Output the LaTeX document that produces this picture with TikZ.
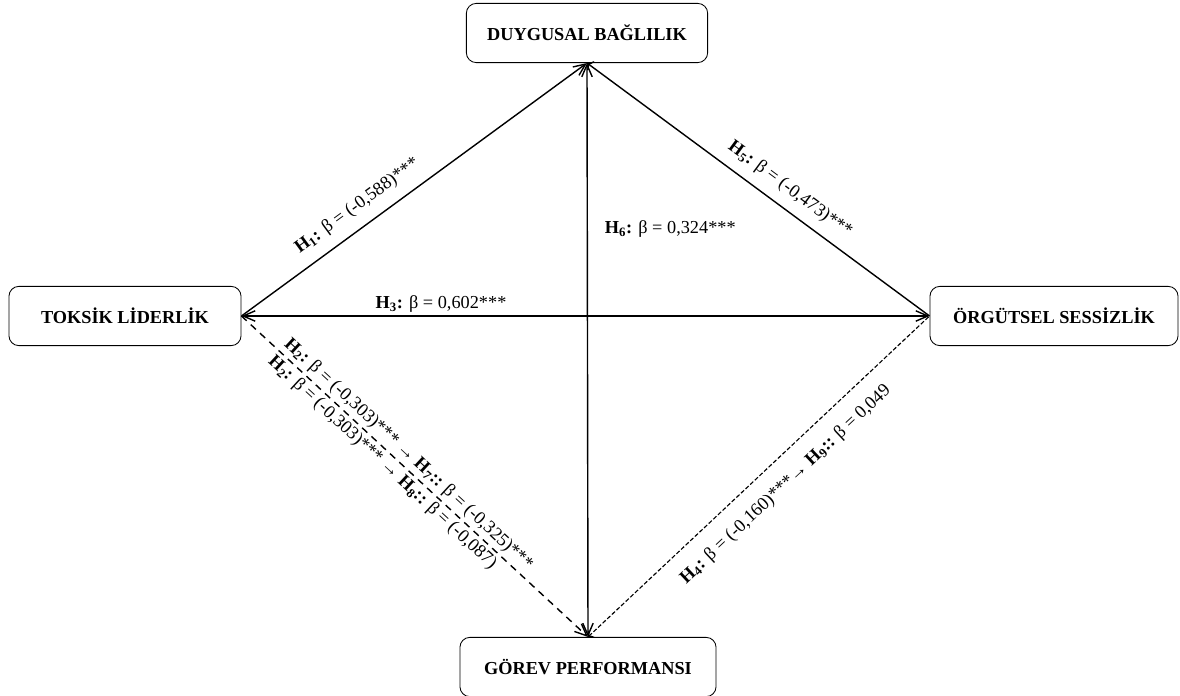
\documentclass[tikz,border=0pt]{standalone}
\usepackage{fontspec}
\setmainfont{Liberation Serif}
\usepackage{tikz}
\usetikzlibrary{arrows.meta,positioning}

\begin{document}
\begin{tikzpicture}[x=0.025cm, y=-0.025cm,
    box/.style={draw, rounded corners=7pt, line width=0.6pt, minimum height=1.48cm,
      font=\fontsize{13}{15}\selectfont\bfseries},
    link/.style={line width=1pt, -{Straight Barb[length=3mm, width=2.6mm]}},
    dlink/.style={link, dash pattern=on 5pt off 4pt},
    dlinkb/.style={link, line width=0.8pt, dash pattern=on 3pt off 1.5pt},
    lbl/.style={font=\fontsize{13}{15}\selectfont, inner sep=2pt}]
    \useasboundingbox (0,0) rectangle (1180,696);
    \node[box, minimum width=6.03cm] (db) at (587,33) {DUYGUSAL BAĞLILIK};
    \node[box, minimum width=5.8cm] (tl) at (125,316) {TOKSİK LİDERLİK};
    \node[box, minimum width=6.2cm] (os) at (1054,316) {ÖRGÜTSEL SESSİZLİK};
    \node[box, minimum width=6.4cm] (gp) at (588,667) {GÖREV PERFORMANSI};
    \draw[link] (tl.east) -- (db.south)
      node[lbl, sloped, above=6pt, pos=0.37] {\textbf{H\textsubscript{1}:} β = (-0,588)***};
    \draw[link, <-] (db.south) -- (os.west)
      node[lbl, sloped, above=5pt, pos=0.56] {\textbf{H\textsubscript{5}:} β = (-0,473)***};
    \draw[link, {Straight Barb[length=3mm, width=2.6mm]}-{Straight Barb[length=3mm, width=2.6mm]}] (tl.east) -- (os.west)
      node[lbl, above, pos=0.29] {\textbf{H\textsubscript{3}:} β = 0,602***};
    \draw[link, {Straight Barb[length=3mm, width=2.6mm]}-{Straight Barb[length=3mm, width=2.6mm]}] (db.south) -- (gp.north)
      node[lbl, right, pos=0.29, xshift=10pt] {\textbf{H\textsubscript{6}:} β = 0,324***};
    \draw[dlink] (tl.east) -- (gp.north)
      node[lbl, sloped, pos=0.1, anchor=south west] {\textbf{H\textsubscript{2}:} β = (-0,303)*** → \textbf{H\textsubscript{7}::} β = (-0,325)***}
      node[lbl, sloped, pos=0.1, anchor=north west] {\textbf{H\textsubscript{2}:} β = (-0,303)*** → \textbf{H\textsubscript{8}::} β = (-0,087)};
    \draw[dlinkb, <-] (gp.north) -- (os.west)
      node[lbl, sloped, below=9pt, pos=0.53] {\textbf{H\textsubscript{4}:} β = (-0,160)***→ \textbf{H\textsubscript{9}::} β = 0,049};
\end{tikzpicture}
\end{document}
